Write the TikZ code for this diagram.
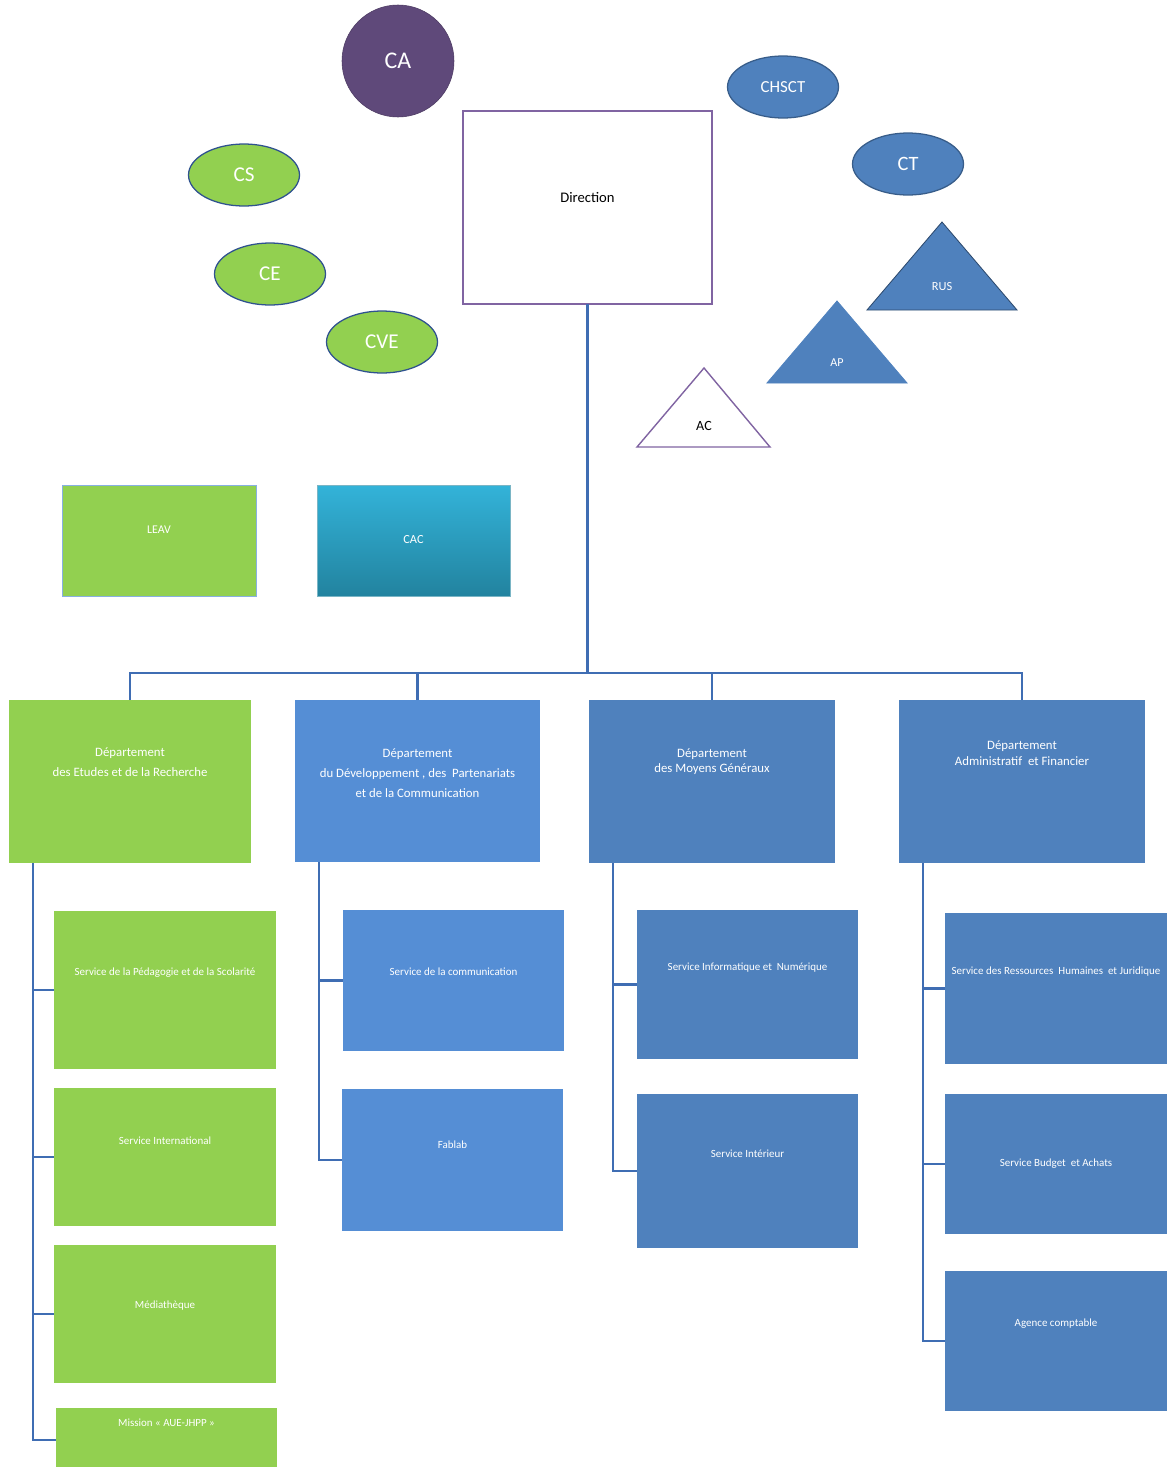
\documentclass[tikz,border=0pt]{standalone}
\usepackage{fontspec}
\setmainfont{Carlito}
\usetikzlibrary{shapes.geometric}

\def\pxu{0.025cm}
\definecolor{vert}{HTML}{92D050}
\definecolor{bleu}{HTML}{4F81BD}
\definecolor{bleuclair}{HTML}{558ED5}
\definecolor{violet}{HTML}{5F497A}
\definecolor{mauve}{HTML}{8064A2}
\definecolor{trait}{HTML}{3F6DB3}
\definecolor{bord}{HTML}{2F528F}
\definecolor{bordbleu}{HTML}{385D8A}
\definecolor{cyanhaut}{HTML}{33B3D9}
\definecolor{cyanbas}{HTML}{22839F}

\tikzset{
  sz/.style 2 args={minimum width=#1*\pxu, minimum height=#2*\pxu},
  boite/.style={rectangle, inner sep=0pt, outer sep=0pt},
  lbl/.style={anchor=center, text=white, align=center},
  dep/.style={font=\fontsize{9.1}{14}\selectfont},
  serv/.style={font=\fontsize{7.8}{9}\selectfont},
  link/.style={draw=trait, line width=1.5pt},
  bulle/.style={ellipse, draw=bord, line width=0.9pt, inner sep=0pt, sz={111}{62}},
  tri/.style={draw=bordbleu, fill=bleu, line width=0.6pt},
}

\begin{document}
\begin{tikzpicture}[x=\pxu, y=-\pxu]
\useasboundingbox (0,0) rectangle (1166,1467);

% Councils
\node[circle, fill=violet, draw=violet!80!black, inner sep=0pt, minimum size=112*\pxu,
      text=white, font=\fontsize{17}{20}\selectfont] (ca) at (398,61) {CA};
\node[bulle, fill=vert, text=white, font=\fontsize{15}{18}\selectfont] (cs) at (244,175) {CS};
\node[bulle, fill=vert, text=white, font=\fontsize{15}{18}\selectfont] (ce) at (270,274) {CE};
\node[bulle, fill=vert, text=white, font=\fontsize{15}{18}\selectfont] (cve) at (382,342) {CVE};
\node[bulle, draw=bordbleu, fill=bleu, text=white, font=\fontsize{12}{14}\selectfont] (chsct) at (783,87) {CHSCT};
\node[bulle, draw=bordbleu, fill=bleu, text=white, font=\fontsize{14.5}{17}\selectfont] (ct) at (908,164) {CT};

% Direction
\node[boite, draw=mauve, line width=1.2pt, sz={249}{193},
      label={[anchor=center, yshift=-86*\pxu, font=\fontsize{10.4}{12}\selectfont]north:Direction}]
      (dir) at (587.5,207.5) {};

% Triangles
\draw[tri, draw=bordbleu!80!black] (942,222) -- (1017,310) -- (867,310) -- cycle;
\node[text=white, font=\fontsize{8.8}{10}\selectfont] (rus) at (942,287) {RUS};
\draw[tri, draw=bleu] (837,301) -- (907,383) -- (767,383) -- cycle;
\node[text=white, font=\fontsize{8.6}{10}\selectfont] (ap) at (837,363) {AP};
\draw[draw=mauve, fill=white, line width=1pt] (704,368) -- (770,447) -- (637,447) -- cycle;
\node[text=black, font=\fontsize{10}{12}\selectfont] (ac) at (704,426) {AC};

% LEAV and CAC
\node[boite, fill=vert, draw=bleuclair!70, line width=0.6pt, sz={194}{111},
      label={[lbl, yshift=-45*\pxu, font=\fontsize{8.4}{10}\selectfont]north:LEAV}]
      (leav) at (159,540.5) {};
\node[boite, top color=cyanhaut, bottom color=cyanbas, draw=cyanbas!60, line width=0.4pt, sz={193}{111},
      label={[lbl, yshift=-55*\pxu, font=\fontsize{8.8}{10}\selectfont]north:CAC}]
      (cac) at (413.5,540.5) {};

% Departments
\node[boite, fill=vert, sz={242}{163},
      label={[lbl, dep, yshift=-62*\pxu]north:{Département\\des Etudes et de la Recherche}}]
      (d1) at (130,781.5) {};
\node[boite, fill=bleuclair, sz={245}{162},
      label={[lbl, dep, yshift=-73*\pxu]north:{Département\\du Développement , des~ Partenariats\\et de la Communication}}]
      (d2) at (417.5,781) {};
\node[boite, fill=bleu, sz={246}{163},
      label={[lbl, font=\fontsize{9.1}{10.5}\selectfont, yshift=-62*\pxu]north:{Département\\des Moyens Généraux}}]
      (d3) at (712,781.5) {};
\node[boite, fill=bleu, sz={246}{163},
      label={[lbl, font=\fontsize{9.1}{11}\selectfont, yshift=-53*\pxu]north:{Département\\Administratif~ et Financier}}]
      (d4) at (1022,781.5) {};

% Services
\node[boite, fill=vert, sz={222}{158},
      label={[lbl, serv, yshift=-62*\pxu]north:Service de la Pédagogie et de la Scolarité}] (s1) at (165,990) {};
\node[boite, fill=vert, sz={222}{138},
      label={[lbl, serv, yshift=-53*\pxu]north:Service International}] (s2) at (165,1157) {};
\node[boite, fill=vert, sz={222}{138},
      label={[lbl, serv, yshift=-61*\pxu]north:Médiathèque}] (s3) at (165,1314) {};
\node[boite, fill=vert, sz={221}{64},
      label={[lbl, serv, yshift=-15*\pxu]north:Mission « AUE-JHPP »}] (s4) at (166.5,1440) {};

\node[boite, fill=bleuclair, sz={221}{141},
      label={[lbl, serv, yshift=-62*\pxu]north:Service de la communication}] (s5) at (453.5,980.5) {};
\node[boite, fill=bleuclair, sz={221}{142},
      label={[lbl, serv, yshift=-56*\pxu]north:Fablab}] (s6) at (452.5,1160) {};

\node[boite, fill=bleu, sz={221}{149},
      label={[lbl, serv, yshift=-58*\pxu]north:Service Informatique et~ Numérique}] (s7) at (747.5,984.5) {};
\node[boite, fill=bleu, sz={221}{154},
      label={[lbl, serv, yshift=-60*\pxu]north:Service Intérieur}] (s8) at (747.5,1171) {};

\node[boite, fill=bleu, sz={222}{151},
      label={[lbl, serv, yshift=-59*\pxu]north:Service des Ressources~ Humaines~ et Juridique}] (s9) at (1056,988.5) {};
\node[boite, fill=bleu, sz={222}{140},
      label={[lbl, serv, yshift=-70*\pxu]north:Service Budget~ et Achats}] (s10) at (1056,1164) {};
\node[boite, fill=bleu, sz={222}{140},
      label={[lbl, serv, yshift=-53*\pxu]north:Agence comptable}] (s11) at (1056,1341) {};

% Links
\coordinate (bus) at (587.5,673);
\draw[link] (dir.south) -- (bus);
\foreach \d in {d1,d2,d3,d4}
  \draw[link] (bus) -| (\d.north);
\foreach \d/\s in {d1/s1, d1/s2, d1/s3, d1/s4, d2/s5, d2/s6, d3/s7, d3/s8, d4/s9, d4/s10, d4/s11}
  \draw[link] ([xshift=24*\pxu]\d.south west) |- (\s.west);

\end{tikzpicture}
\end{document}
